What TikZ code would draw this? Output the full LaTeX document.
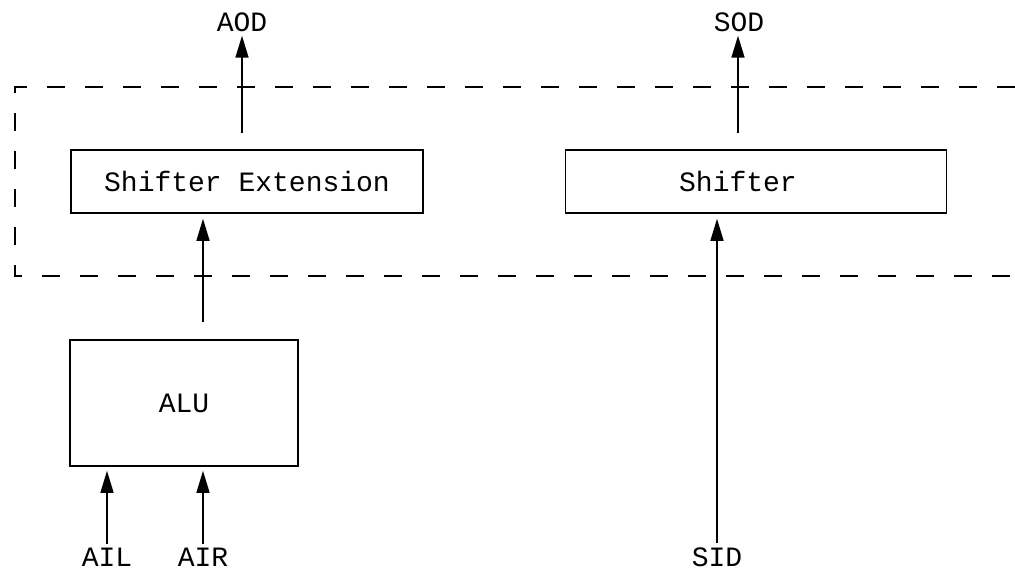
\documentclass[tikz,border=0pt]{standalone}
\usepackage{fontspec}
\setmonofont{Liberation Mono}
\usetikzlibrary{arrows.meta}
\begin{document}
\begin{tikzpicture}[x=1pt,y=-1pt,
  unit/.style={draw,line width=1.6pt,inner sep=0pt,font=\ttfamily\fontsize{28}{30}\selectfont},
  sig/.style={inner sep=0pt,font=\ttfamily\fontsize{28}{30}\selectfont},
  flow/.style={line width=1.6pt,-{Triangle[length=22pt,width=13pt]}},
  region/.style={line width=1.6pt,dash pattern=on 18pt off 20pt}]
\useasboundingbox (0,0) rectangle (1015,573);

% dashed region, open on the right
\draw[region] (1015,87) -- (15,87) -- (15,276) -- (1015,276);

% functional units
\node[unit,minimum width=352pt,minimum height=63pt] (sext) at (247,181.5) {Shifter Extension};
\node[unit,minimum width=381pt,minimum height=63pt] (shf) at (756,181.5) {Shifter\hspace*{36pt}};
\node[unit,minimum width=228pt,minimum height=126pt] (alu) at (184,403) {ALU};

% signal names
\node[sig] (aod) at (242,22) {AOD};
\node[sig] (sod) at (739,22) {SOD};
\node[sig] (ail) at (107,557) {AIL};
\node[sig] (air) at (203,557) {AIR};
\node[sig] (sid) at (717,557) {SID};

% free line ends
\coordinate (aodsrc) at (242,133);
\coordinate (sodsrc) at (738,133);
\coordinate (alusrc) at (203,322);

% connections
\draw[flow,shorten >=4pt] (aodsrc) -- (aodsrc |- aod.south);
\draw[flow,shorten >=4pt] (sodsrc) -- (sodsrc |- sod.south);
\draw[flow,shorten >=5pt] (alusrc) -- (alusrc |- sext.south);
\draw[flow,shorten <=4pt,shorten >=4pt] (ail.north) -- (ail.north |- alu.south);
\draw[flow,shorten <=4pt,shorten >=4pt] (air.north) -- (air.north |- alu.south);
\draw[flow,shorten <=4pt,shorten >=5pt] (sid.north) -- (sid.north |- shf.south);
\end{tikzpicture}
\end{document}
